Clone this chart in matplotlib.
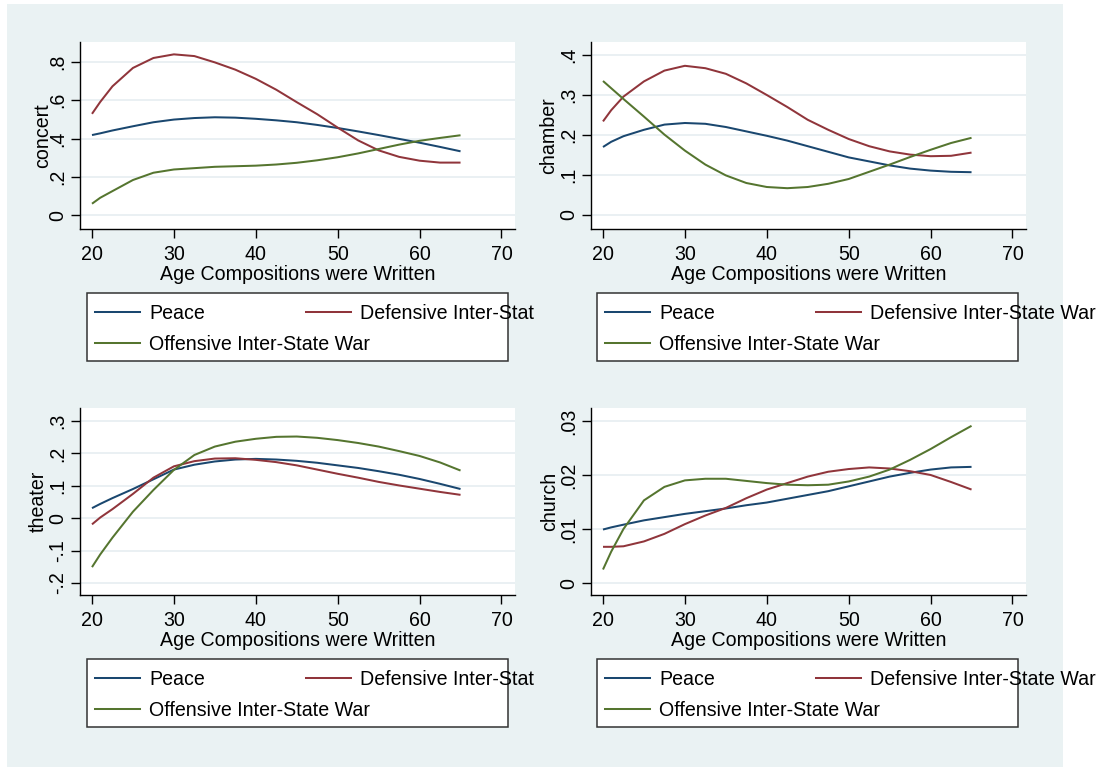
import matplotlib
matplotlib.use("Agg")
import matplotlib.pyplot as plt
from matplotlib.patches import Rectangle
from matplotlib.lines import Line2D

# ---------------------------------------------------------------- data
age = [20, 21, 22.5, 25, 27.5, 30, 32.5, 35, 37.5, 40,
       42.5, 45, 47.5, 50, 52.5, 55, 57.5, 60, 62.5, 65]

series_names = ["Peace", "Defensive Inter-State War", "Offensive Inter-State War"]

concert_peace = [.418, .427, .442, .464, .485, .499, .507, .511, .509, .503,
                 .495, .485, .471, .455, .437, .418, .398, .378, .356, .333]
concert_defensive = [.529, .591, .673, .769, .821, .840, .831, .798, .760, .712,
                     .655, .590, .527, .457, .390, .338, .304, .284, .274, .274]
concert_offensive = [.059, .090, .125, .183, .221, .238, .245, .252, .255, .258,
                     .264, .273, .286, .302, .322, .345, .368, .388, .403, .417]

chamber_peace = [.170, .183, .197, .213, .226, .230, .228, .220, .209, .198,
                 .186, .172, .158, .144, .134, .124, .116, .111, .108, .107]
chamber_defensive = [.234, .262, .296, .334, .361, .373, .367, .353, .329, .300,
                     .270, .238, .213, .190, .172, .159, .151, .147, .148, .156]
chamber_offensive = [.335, .317, .290, .246, .201, .161, .126, .099, .080, .070,
                     .067, .070, .078, .090, .108, .126, .145, .163, .180, .193]

theater_peace = [.031, .044, .062, .090, .120, .150, .165, .175, .181, .183,
                 .181, .177, .171, .163, .155, .145, .134, .121, .106, .090]
theater_defensive = [-.019, .002, .028, .075, .125, .160, .176, .184, .185, .180,
                     .173, .163, .150, .137, .125, .112, .101, .091, .081, .072]
theater_offensive = [-.151, -.112, -.060, .020, .087, .149, .195, .221, .236, .245,
                     .251, .252, .248, .241, .232, .221, .207, .192, .172, .147]

church_peace = [.0099, .0103, .0108, .0116, .0122, .0128, .0133, .0138, .0144, .0149,
                .0156, .0163, .0170, .0179, .0188, .0197, .0204, .0210, .0214, .0215]
church_defensive = [.0067, .0067, .0068, .0077, .0091, .0109, .0125, .0139, .0157, .0173,
                    .0185, .0197, .0206, .0211, .0214, .0212, .0207, .0200, .0187, .0173]
church_offensive = [.0025, .0058, .0100, .0153, .0178, .0190, .0193, .0193, .0189, .0185,
                    .0182, .0181, .0182, .0188, .0197, .0210, .0228, .0248, .0270, .0291]

x_ticks = [20, 30, 40, 50, 60, 70]
concert_ticks = [0, .2, .4, .6, .8]
concert_ticklabels = ["0", ".2", ".4", ".6", ".8"]
chamber_ticks = [0, .1, .2, .3, .4]
chamber_ticklabels = ["0", ".1", ".2", ".3", ".4"]
theater_ticks = [-.2, -.1, 0, .1, .2, .3]
theater_ticklabels = ["-.2", "-.1", "0", ".1", ".2", ".3"]
church_ticks = [0, .01, .02, .03]
church_ticklabels = ["0", ".01", ".02", ".03"]

x_title = "Age Compositions were Written"

# ---------------------------------------------------------------- style
W, H, DPI = 1102, 767, 100
BG = "#EAF2F3"
GRID = "#E6EEF1"
COLORS = ["#1A476F", "#90353B", "#55752F"]
FS = 14.1
LW = 1.45

plt.rcParams["font.family"] = ["Liberation Sans", "DejaVu Sans"]


def fx(px):
    return px / W


def fy(py):
    return 1 - py / H


fig = plt.figure(figsize=(W / DPI, H / DPI), dpi=DPI)
fig.patch.set_facecolor("white")
fig.add_artist(Rectangle((fx(7), fy(767)), fx(1063) - fx(7), fy(4) - fy(767),
                         transform=fig.transFigure, facecolor=BG,
                         edgecolor="none", zorder=-5))

# panel geometry in pixels: left, top, right, bottom of plot region,
# y limits, y-title offset, legend inset and the legend's second key
panels = [
    dict(title="concert", series=[concert_peace, concert_defensive, concert_offensive],
         ticks=concert_ticks, labels=concert_ticklabels, ylim=(-0.0732, 0.9046),
         box=(80, 42, 515, 229), yoff=32, inset=7, key2="Defensive Inter-Stat"),
    dict(title="chamber", series=[chamber_peace, chamber_defensive, chamber_offensive],
         ticks=chamber_ticks, labels=chamber_ticklabels, ylim=(-0.035, 0.4325),
         box=(591, 42, 1026, 229), yoff=37, inset=6, key2=series_names[1]),
    dict(title="theater", series=[theater_peace, theater_defensive, theater_offensive],
         ticks=theater_ticks, labels=theater_ticklabels, ylim=(-0.237, 0.340),
         box=(80, 408, 515, 595), yoff=36, inset=7, key2="Defensive Inter-Stat"),
    dict(title="church", series=[church_peace, church_defensive, church_offensive],
         ticks=church_ticks, labels=church_ticklabels, ylim=(-0.00222, 0.0324),
         box=(591, 408, 1026, 595), yoff=36, inset=6, key2=series_names[1]),
]

for p in panels:
    l, t, r, b = p["box"]
    ax = fig.add_axes([fx(l), fy(b), (r - l) / W, (b - t) / H])
    ax.set_facecolor("white")
    for vals, col in zip(p["series"], COLORS):
        ax.plot(age, vals, color=col, lw=LW, solid_capstyle="butt")
    ax.set_xlim(18.535, 71.65)
    ax.set_ylim(*p["ylim"])
    ax.set_xticks(x_ticks)
    ax.set_xticklabels([str(v) for v in x_ticks])
    ax.set_yticks(p["ticks"])
    ax.set_yticklabels(p["labels"], rotation=90, va="center")
    ax.grid(axis="y", color=GRID, lw=1.2)
    ax.grid(axis="x", visible=False)
    ax.set_axisbelow(True)
    for s in ("top", "right"):
        ax.spines[s].set_visible(False)
    for s in ("left", "bottom"):
        ax.spines[s].set_color("black")
        ax.spines[s].set_linewidth(1.0)
    ax.tick_params(axis="both", direction="out", length=6.5, width=1.0,
                   color="black", labelsize=FS, labelcolor="black")
    ax.tick_params(axis="x", pad=5)
    ax.tick_params(axis="y", pad=2.9)

    # axis titles
    fig.text(fx(l - p["yoff"]), fy((t + b) / 2), p["title"], rotation=90,
             rotation_mode="anchor", ha="center", va="baseline", fontsize=FS)
    fig.text(fx((l + r) / 2), fy(b + 51), x_title, ha="center",
             va="baseline", fontsize=FS)

    # legend box below each panel
    bx, by = l + p["inset"], b + 64
    fig.add_artist(Rectangle((fx(bx), fy(by + 68)), 421 / W, 68 / H,
                             transform=fig.transFigure, facecolor="white",
                             edgecolor="#333333", lw=1.1, zorder=2))
    keys = [(series_names[0], 0, 0), (p["key2"], 211, 0), (series_names[2], 0, 31)]
    for (txt, dx, dy), col in zip(keys, COLORS):
        yc = by + 19 + dy
        fig.add_artist(Line2D([fx(bx + 8 + dx), fx(bx + 53 + dx)], [fy(yc), fy(yc)],
                              transform=fig.transFigure, color=col, lw=LW, zorder=3))
        fig.text(fx(bx + 62 + dx), fy(yc + 7), txt, ha="left", va="baseline",
                 fontsize=FS, zorder=4)

fig.savefig("out.png", dpi=DPI, facecolor=fig.get_facecolor())
